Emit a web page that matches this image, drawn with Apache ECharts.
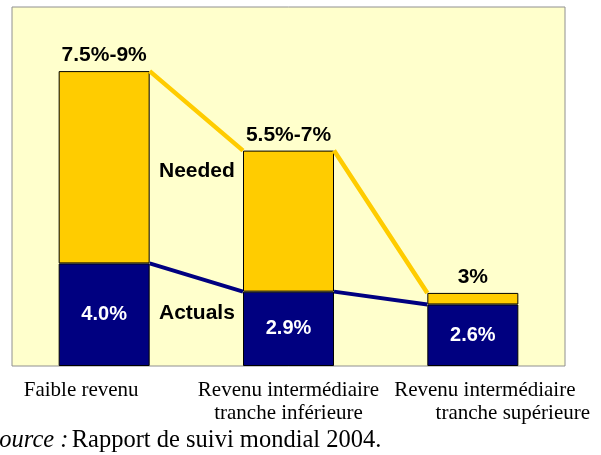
<!DOCTYPE html>
<html>
<head>
<meta charset="utf-8">
<script src="https://cdn.jsdelivr.net/npm/echarts@6/dist/echarts.min.js"></script>
<style>
  html, body { margin: 0; padding: 0; background: #fff; }
  #chart { width: 601px; height: 455px; }
</style>
</head>
<body>
<div id="chart"></div>
<script>
// données
const categories = ['Faible revenu', 'Revenu intermédiaire\ntranche inférieure', 'Revenu intermédiaire\ntranche supérieure']
const actuals = [4.0, 2.9, 2.4]
const needed = [7.5, 5.5, 0.45]   // écart au-dessus des valeurs actuelles
const neededLabels = ['7.5%-9%', '5.5%-7%', '3%']
const actualLabels = ['4.0%', '2.9%', '2.6%']

const chart = echarts.init(document.getElementById('chart'))

const gridLeft = 12, gridRight = 36
const barWidth = 91
const band = (601 - gridLeft - gridRight) / categories.length
const half = (barWidth / 2) / band

const totals = actuals.map((v, i) => v + needed[i])

// segments reliant les bords des barres
const makeLine = vals => {
    const pts = []
    for (let i = 0; i < vals.length - 1; i++) {
        pts.push([i + 0.5 + half, vals[i]])
        pts.push([i + 1.5 - half, vals[i + 1]])
        pts.push([i + 1, '-'])
    }
    return pts
}

const labelFont = 'Liberation Sans, Arial, sans-serif'

const option = {
    animation: false,
    grid: {
        left: gridLeft, right: gridRight, top: 7, bottom: 89,
        show: true,
        backgroundColor: '#FFFFCC',
        borderColor: '#909090',
        borderWidth: 1
    },
    xAxis: [{
        type: 'category',
        data: categories,
        axisLine: { show: false },
        axisTick: { show: false },
        axisLabel: {
            interval: 0,
            margin: 13,
            color: '#000',
            fontFamily: 'Liberation Serif, Times New Roman, serif',
            fontSize: 21,
            lineHeight: 23,
            formatter: (value, idx) => {
                const lines = value.split('\n')
                if (idx === 0) return '{l0|' + lines[0] + '}'
                if (idx === 1) return '{m|' + lines[0] + '}\n{m|' + lines[1] + '}'
                return '{r1|' + lines[0] + '}\n{r2|' + lines[1] + '}'
            },
            rich: {
                l0: { padding: [0, 46, 0, 0] },
                m: {},
                r1: { padding: [0, 0, 0, 24] },
                r2: { padding: [0, 0, 0, 80] }
            }
        }
    }, {
        type: 'value',
        min: 0,
        max: categories.length,
        show: false
    }],
    yAxis: {
        type: 'value',
        min: 0,
        max: 14,
        show: false
    },
    series: [{
        name: 'Actuals',
        type: 'bar',
        stack: 'total',
        barWidth: barWidth,
        data: actuals,
        itemStyle: { color: '#000080', borderColor: '#000', borderWidth: 1 },
        label: {
            show: true,
            position: 'inside',
            color: '#fff',
            fontWeight: 'bold',
            fontFamily: labelFont,
            fontSize: 20,
            formatter: p => actualLabels[p.dataIndex]
        }
    }, {
        name: 'Needed',
        type: 'bar',
        stack: 'total',
        barWidth: barWidth,
        data: needed,
        itemStyle: { color: '#FFCC00', borderColor: '#000', borderWidth: 1 },
        label: {
            show: true,
            position: 'top',
            distance: 5,
            color: '#000',
            fontWeight: 'bold',
            fontFamily: labelFont,
            fontSize: 21,
            formatter: p => neededLabels[p.dataIndex]
        }
    }, {
        type: 'line',
        xAxisIndex: 1,
        data: makeLine(totals),
        symbol: 'none',
        connectNulls: false,
        lineStyle: { color: '#FFCC00', width: 4.5 },
        z: 3
    }, {
        type: 'line',
        xAxisIndex: 1,
        data: makeLine(actuals),
        symbol: 'none',
        connectNulls: false,
        lineStyle: { color: '#000080', width: 4 },
        z: 3
    }],
    graphic: [{
        type: 'text',
        left: 159, top: 161,
        style: { text: 'Needed', fill: '#000', font: 'bold 21px ' + labelFont }
    }, {
        type: 'text',
        left: 159, top: 303,
        style: { text: 'Actuals', fill: '#000', font: 'bold 21px ' + labelFont }
    }, {
        type: 'text',
        left: -13, top: 428,
        style: {
            text: '{i|Source :} {n|Rapport de suivi mondial 2004.}',
            rich: {
                i: { fontFamily: 'Liberation Serif, serif', fontStyle: 'italic', fontSize: 24.5, fill: '#000' },
                n: { fontFamily: 'Liberation Serif, serif', fontSize: 24.5, fill: '#000' }
            }
        }
    }]
}

chart.setOption(option)
</script>
</body>
</html>
